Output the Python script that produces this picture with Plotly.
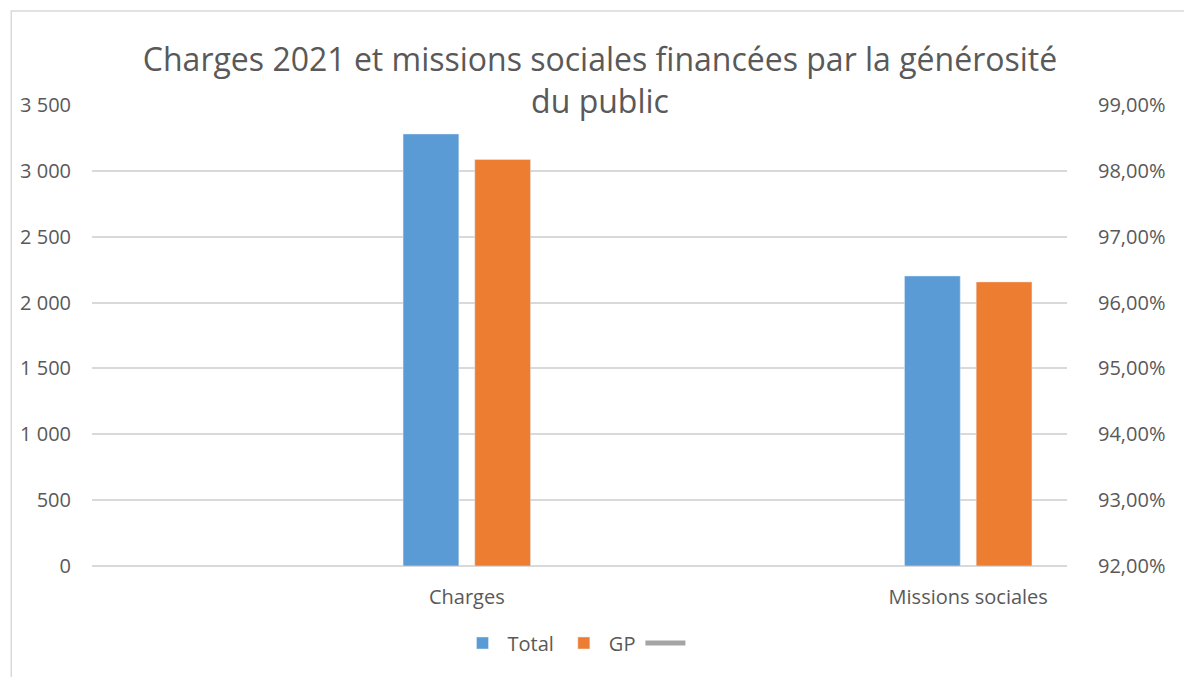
import plotly.graph_objects as go

categories = ["Charges", "Missions sociales"]
total = [3280, 2202]
gp = [3086, 2157]
ratio = [None, None]  # line series on secondary axis (not visible in the reference)

left_ticks = [0, 500, 1000, 1500, 2000, 2500, 3000, 3500]
right_ticks = [0.92, 0.93, 0.94, 0.95, 0.96, 0.97, 0.98, 0.99]

FONT = "Open Sans"
TXT = "#595959"

fig = go.Figure()
fig.add_trace(go.Bar(x=categories, y=total, name="Total", marker=dict(color="#5B9BD5")))
fig.add_trace(go.Bar(x=categories, y=gp, name="GP", marker=dict(color="#ED7D31")))
fig.add_trace(go.Scatter(x=categories, y=ratio, name=" ", mode="lines",
                         line=dict(color="#A5A5A5", width=5), yaxis="y2"))

# page has an 8px body margin; figure is 1184x669 placed at (8,8)
FW, FH = 1184, 669
L, R, T, B = 81, 1059, 97, 558
W, H = R - L, B - T

def px(x):
    return (x - L) / W

def py(y):
    return (B - y) / H

fig.update_layout(
    width=FW, height=FH,
    margin=dict(l=L, r=FW - R, t=T, b=FH - B),
    paper_bgcolor="white", plot_bgcolor="white",
    separators=", ",
    font=dict(family=FONT, color=TXT, size=20),
    title=dict(text="Charges 2021 et missions sociales financées par la générosité<br>du public",
               x=0.5, xanchor="center", y=1 - 63 / FH, yanchor="middle",
               font=dict(family=FONT, size=32, color=TXT)),
    barmode="group", bargap=0.714, bargroupgap=0.222,
    xaxis=dict(range=[-0.7475, 1.197], showgrid=False, showline=False,
               ticks="", tickfont=dict(size=20, color=TXT), ticklabelstandoff=17),
    yaxis=dict(range=[0, 3500], tickvals=left_ticks, tickformat=",d",
               showgrid=True, gridcolor="#D9D9D9", gridwidth=1.5,
               zeroline=True, zerolinecolor="#D9D9D9", zerolinewidth=1.5,
               showline=False, ticks="", tickfont=dict(size=20, color=TXT),
               ticklabelstandoff=20),
    yaxis2=dict(range=[0.92, 0.99], tickvals=right_ticks, tickformat=".2%",
                overlaying="y", side="right", showgrid=False, zeroline=False,
                showline=False, ticks="", tickfont=dict(size=20, color=TXT),
                ticklabelstandoff=30),
    legend=dict(orientation="h", x=0.5, xanchor="center", y=py(635), yanchor="middle",
                font=dict(size=20, color=TXT), traceorder="normal",
                itemwidth=40, tracegroupgap=0),
    showlegend=True,
    shapes=[dict(type="rect", xref="paper", yref="paper",
                 x0=px(0), x1=px(1182), y0=py(690), y1=py(3),
                 line=dict(color="#D9D9D9", width=1.5), fillcolor="rgba(0,0,0,0)",
                 layer="below")],
)

fig.write_html("out.html")
